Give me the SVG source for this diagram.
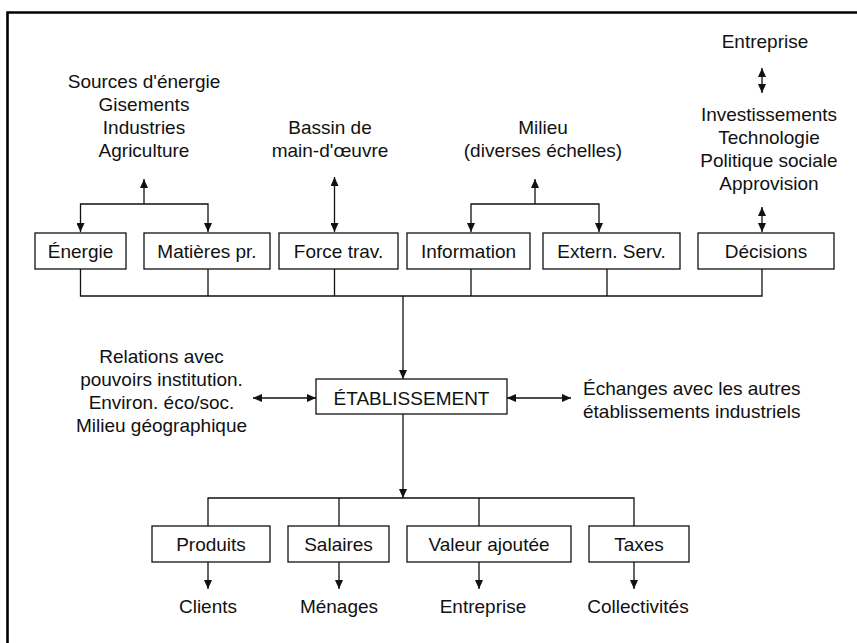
<svg xmlns="http://www.w3.org/2000/svg" width="857" height="643" viewBox="0 0 857 643">
<style>
text{font-family:"Liberation Sans",Arial,sans-serif;font-size:19px;fill:#111;text-anchor:middle}
.box{fill:#fff;stroke:#111;stroke-width:1.3}
.ln{fill:none;stroke:#111;stroke-width:1.3}
.frame{fill:none;stroke:#000;stroke-width:2.6}
</style>
<defs>
<marker id="ah" viewBox="0 0 9 8" refX="9" refY="4" markerWidth="9" markerHeight="8" markerUnits="userSpaceOnUse" orient="auto-start-reverse"><path d="M0,0 L9,4 L0,8 z" fill="#111"/></marker>
</defs>
<rect width="857" height="643" fill="#fff"/>
<path class="frame" d="M7.5,643 V12.5 H857"/>

<g id="labels">
<text x="144" y="88">Sources d'énergie</text>
<text x="144" y="111">Gisements</text>
<text x="144" y="134">Industries</text>
<text x="144" y="157">Agriculture</text>
<text x="330" y="134">Bassin de</text>
<text x="330" y="157">main-d'œuvre</text>
<text x="543" y="134">Milieu</text>
<text x="543" y="157">(diverses échelles)</text>
<text x="765" y="48">Entreprise</text>
<text x="769" y="121">Investissements</text>
<text x="769" y="144">Technologie</text>
<text x="769" y="167">Politique sociale</text>
<text x="769" y="190">Approvision</text>
<text x="161.5" y="363">Relations avec</text>
<text x="161.5" y="386">pouvoirs institution.</text>
<text x="161.5" y="409">Environ. éco/soc.</text>
<text x="161.5" y="432">Milieu géographique</text>
<text x="583" y="395" style="text-anchor:start">Échanges avec les autres</text>
<text x="583" y="418" style="text-anchor:start">établissements industriels</text>
<text x="208" y="613">Clients</text>
<text x="339" y="613">Ménages</text>
<text x="483" y="613">Entreprise</text>
<text x="638" y="613">Collectivités</text>
</g>

<g id="connectors">
<path class="ln" d="M144,204 V179" marker-end="url(#ah)"/>
<path class="ln" d="M80.5,232 V204 H208 V232" marker-start="url(#ah)" marker-end="url(#ah)"/>
<path class="ln" d="M334.5,177 V232" marker-start="url(#ah)" marker-end="url(#ah)"/>
<path class="ln" d="M535,204 V179" marker-end="url(#ah)"/>
<path class="ln" d="M471,232 V204 H599 V232" marker-start="url(#ah)" marker-end="url(#ah)"/>
<path class="ln" d="M762,68 V93" marker-start="url(#ah)" marker-end="url(#ah)"/>
<path class="ln" d="M762,207 V232" marker-start="url(#ah)" marker-end="url(#ah)"/>
<path class="ln" d="M80.5,269 V296 H762 V269 M208,269 V296 M334.5,269 V296 M471,269 V296 M607,269 V296"/>
<path class="ln" d="M403,296 V379" marker-end="url(#ah)"/>
<path class="ln" d="M253,398 H316" marker-start="url(#ah)" marker-end="url(#ah)"/>
<path class="ln" d="M507,398 H571" marker-start="url(#ah)" marker-end="url(#ah)"/>
<path class="ln" d="M403,414 V498" marker-end="url(#ah)"/>
<path class="ln" d="M208,526 V498 H634 V526 M339,498 V526 M479,498 V526"/>
<path class="ln" d="M208,562 V589" marker-end="url(#ah)"/>
<path class="ln" d="M339,562 V589" marker-end="url(#ah)"/>
<path class="ln" d="M479,562 V589" marker-end="url(#ah)"/>
<path class="ln" d="M634,562 V589" marker-end="url(#ah)"/>
</g>

<g id="energie"><rect class="box" x="35" y="233" width="91" height="36"/><text x="80.5" y="258">Énergie</text></g>
<g id="matieres"><rect class="box" x="144" y="233" width="126" height="36"/><text x="207" y="258">Matières pr.</text></g>
<g id="force"><rect class="box" x="279" y="233" width="119" height="36"/><text x="338.5" y="258">Force trav.</text></g>
<g id="information"><rect class="box" x="407" y="233" width="123" height="36"/><text x="468.5" y="258">Information</text></g>
<g id="extern"><rect class="box" x="543" y="233" width="137" height="36"/><text x="611.5" y="258">Extern. Serv.</text></g>
<g id="decisions"><rect class="box" x="698" y="233" width="136" height="36"/><text x="766" y="258">Décisions</text></g>
<g id="etablissement"><rect class="box" x="316" y="379" width="191" height="35"/><text x="411.5" y="405">ÉTABLISSEMENT</text></g>
<g id="produits"><rect class="box" x="152" y="526" width="118" height="36"/><text x="211" y="551">Produits</text></g>
<g id="salaires"><rect class="box" x="288" y="526" width="101" height="36"/><text x="338.5" y="551">Salaires</text></g>
<g id="valeur"><rect class="box" x="407" y="526" width="164" height="36"/><text x="489" y="551">Valeur ajoutée</text></g>
<g id="taxes"><rect class="box" x="589" y="526" width="100" height="36"/><text x="639" y="551">Taxes</text></g>
</svg>
